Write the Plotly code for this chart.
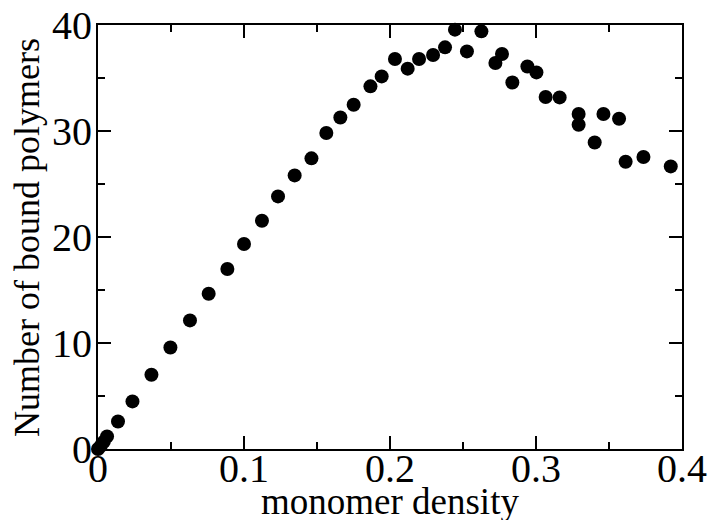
import plotly.graph_objects as go

density = [0, 0.002, 0.004, 0.0062, 0.0137, 0.0236, 0.0366, 0.0496, 0.063, 0.0758,
           0.0886, 0.1, 0.1123, 0.1233, 0.1347, 0.1462, 0.1564, 0.166, 0.1751, 0.1866,
           0.1943, 0.2034, 0.2121, 0.2199, 0.2295, 0.2377, 0.2445, 0.2527, 0.2626, 0.2722,
           0.2767, 0.2838, 0.2941, 0.3003, 0.3066, 0.3162, 0.3292, 0.3292, 0.3402, 0.3462,
           0.3569, 0.3614, 0.3736, 0.3923]
bound = [0, 0.3, 0.7, 1.19, 2.60, 4.49, 7.01, 9.58, 12.13, 14.65,
         16.98, 19.34, 21.54, 23.83, 25.81, 27.42, 29.81, 31.28, 32.48, 34.21,
         35.15, 36.79, 35.88, 36.79, 37.17, 37.89, 39.56, 37.51, 39.40, 36.42,
         37.26, 34.58, 36.09, 35.53, 33.21, 33.17, 31.60, 30.59, 28.92, 31.60,
         31.16, 27.10, 27.55, 26.66]

x_ticks = [0, 0.1, 0.2, 0.3, 0.4]
x_tick_labels = ["0", "0.1", "0.2", "0.3", "0.4"]
y_ticks = [0, 10, 20, 30, 40]
y_tick_labels = ["0", "10", "20", "30", "40"]

FONT = "Liberation Serif"

fig = go.Figure()
fig.add_trace(go.Scatter(
    x=density, y=bound, mode="markers",
    marker=dict(size=14, color="black", line=dict(width=0)),
    cliponaxis=False, showlegend=False,
))

axis_common = dict(
    showgrid=False, zeroline=False, showline=True, linecolor="black", linewidth=2,
    mirror="ticks", ticks="inside", ticklen=13, tickwidth=1.5, tickcolor="black",
    tickfont=dict(family=FONT, size=40, color="black"), automargin=False,
)
fig.update_xaxes(range=[0, 0.4], tickvals=x_ticks, ticktext=x_tick_labels,
                 ticklabelstandoff=-17,
                 minor=dict(dtick=0.05, ticks="inside", ticklen=7, tickwidth=1.5, tickcolor="black"),
                 **axis_common)
fig.update_yaxes(range=[0, 40], tickvals=y_ticks, ticktext=y_tick_labels,
                 ticklabelstandoff=-4,
                 minor=dict(dtick=5, ticks="inside", ticklen=7, tickwidth=1.5, tickcolor="black"),
                 **axis_common)

fig.add_annotation(text="monomer density", xref="paper", yref="paper",
                   x=0.5, y=-0.124, xanchor="center", yanchor="middle", showarrow=False,
                   font=dict(family=FONT, size=37, color="black"))
fig.add_annotation(text="Number of bound polymers", xref="paper", yref="paper",
                   x=-0.1216, y=0.5, xanchor="center", yanchor="middle", textangle=-90,
                   showarrow=False, font=dict(family=FONT, size=36, color="black"))

fig.update_layout(
    width=709, height=520, margin=dict(l=98, r=27, t=25, b=71, autoexpand=False),
    paper_bgcolor="white", plot_bgcolor="white",
)
fig.write_html("out.html")
